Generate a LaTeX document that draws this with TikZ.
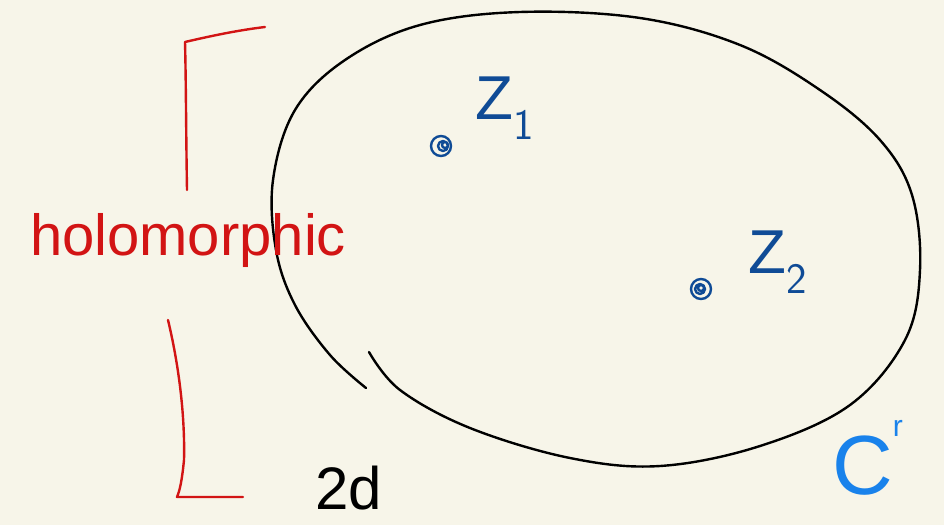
\documentclass[tikz,border=0pt]{standalone}
\usepackage{fontspec}
\setmainfont{Liberation Sans}
\begin{document}
\begin{tikzpicture}[x=1pt,y=-1pt,
  ink/.style={line width=2.4pt,line cap=round,line join=round},
  redink/.style={ink,draw=redc},
  lbl/.style={inner sep=0pt,anchor=center},
  dotring/.style={circle,draw=zblue,line width=2.4pt,minimum size=20pt,inner sep=0pt}]
\definecolor{bg}{RGB}{247,245,233}
\definecolor{redc}{RGB}{210,20,20}
\definecolor{zblue}{RGB}{15,75,150}
\definecolor{cblue}{RGB}{25,130,235}
\fill[bg] (0,0) rectangle (944,525);
\useasboundingbox (0,0) rectangle (944,525);
% closed curve with gap
\draw[ink,black] plot[smooth,tension=0.6] coordinates{(369,352) (400,390) (470,428) (570,458) (660,466) (760,446) (850,405) (905,340) (920,270) (912,195) (880,140) (820,90) (740,45) (640,18) (520,12) (420,25) (345,60) (295,110) (273,180) (276,250) (295,305) (330,355) (366,388)};
% red bracket
\draw[redink] (187,190) .. controls (186,130) and (186,80) .. (185,42) .. controls (215,35) and (240,30) .. (265,27);
\draw[redink] (168,320) .. controls (180,370) and (185,420) .. (184,460) .. controls (182,480) and (180,490) .. (177,497) -- (243,497);
% labels
\node[lbl,text=redc,font=\fontsize{58}{60}\selectfont] (holo) at (188,240) {holomorphic};
\node[lbl,text=zblue,font=\fontsize{62}{60}\selectfont] (z1) at (505,108) {Z$_{\mathsf{1}}$};
\node[lbl,text=zblue,font=\fontsize{62}{60}\selectfont] (z2) at (778,262) {Z$_{\mathsf{2}}$};
\node[dotring] (d1) at (441,146) {};
\draw[ink,zblue] (d1.center) ++(2,0) circle[radius=5] ++(2,-1) circle[radius=3];
\node[dotring] (d2) at (701,289) {};
\draw[ink,zblue] (d2.center) ++(-1,0) circle[radius=5] ++(1,-1) circle[radius=3];
\node[lbl,text=black,font=\fontsize{60}{60}\selectfont] (twod) at (349,488) {2d};
\node[lbl,text=cblue,font=\fontsize{84}{80}\selectfont,anchor=base west] (C) at (832,494) {C\raisebox{58pt}{\fontsize{30}{30}\selectfont r}};
\end{tikzpicture}
\end{document}
